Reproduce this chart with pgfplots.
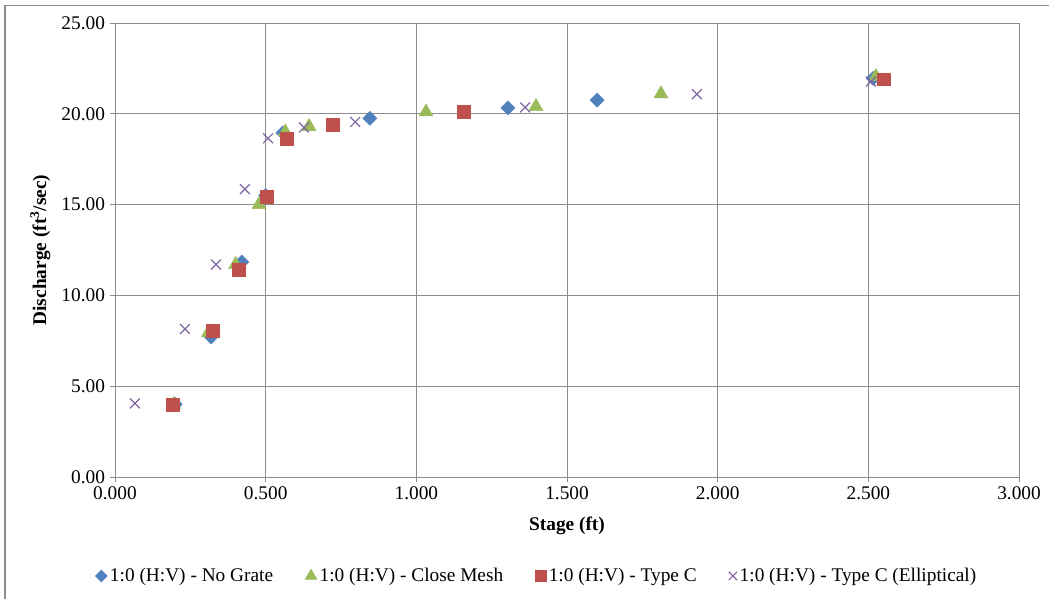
\documentclass[border=0pt]{standalone}
\usepackage{pgfplots}
\pgfplotsset{compat=1.18}
\usepackage{fontspec}
\setmainfont{Liberation Serif}
\definecolor{cblue}{HTML}{4F81BD}
\definecolor{cgreen}{HTML}{9BBB59}
\definecolor{cred}{HTML}{C0504D}
\definecolor{cpurple}{HTML}{8064A2}
\definecolor{gridc}{HTML}{8C8C8C}
\begin{document}
\begin{tikzpicture}
\useasboundingbox (-86.25pt,-91.5pt) rectangle (700.5pt,357.75pt);
\draw[gridc,line width=0.8pt] (-82.5pt,-100pt) -- (-82.5pt,353.8pt) -- (710pt,353.8pt);
\begin{axis}[
  at={(0,0)}, anchor=south west,
  scale only axis, width=678pt, height=340.5pt,
  xmin=0, xmax=3, ymin=0, ymax=25,
  xtick={0,0.5,...,3}, ytick={0,5,...,25},
  xticklabel style={/pgf/number format/.cd,fixed,fixed zerofill,precision=3,assume math mode=true},
  yticklabel style={/pgf/number format/.cd,fixed,fixed zerofill,precision=2,assume math mode=true},
  ticklabel style={font=\fontsize{14.5}{17}\selectfont},
  grid=major, grid style={gridc,line width=0.6pt},
  axis line style={gridc,line width=0.6pt},
  tick style={gridc,line width=0.6pt},
  tick align=outside, major tick length=4pt,
  xtick pos=bottom, ytick pos=left,
  xlabel={\bfseries Stage (ft)},
  ylabel={\bfseries Discharge (ft\textsuperscript{3}/sec)},
  label style={font=\fontsize{14.5}{17}\selectfont},
  xlabel style={at={(axis description cs:0.5,0)}, anchor=center, yshift=-36.75pt},
  ylabel style={at={(axis description cs:-0.0826,0.5)}, anchor=center},
  legend style={at={(0.467,-0.218)}, anchor=center, draw=none, fill=none,
    font=\fontsize{14.5}{17}\selectfont, /tikz/every even column/.append style={column sep=22pt}},
  legend columns=4,
  legend image code/.code={\draw[#1,scale=0.85] plot coordinates {(0.15cm,0cm)};},
]
\addplot[only marks, mark=square*, mark options={rotate=45, fill=cblue, draw=cblue}, mark size=3.7pt]
coordinates {(0.20,4.00) (0.319,7.71) (0.421,11.84) (0.500,15.50) (0.557,18.95) (0.846,19.75) (1.304,20.33) (1.600,20.75) (2.516,21.95)};
\addlegendentry{1:0 (H:V) - No Grate}
\addplot[only marks, mark=triangle*, mark options={fill=cgreen, draw=cgreen}, mark size=6pt]
coordinates {(0.195,4.00) (0.310,7.95) (0.400,11.70) (0.478,15.00) (0.565,19.00) (0.644,19.30) (1.032,20.10) (1.397,20.40) (1.812,21.10) (2.525,22.05)};
\addlegendentry{1:0 (H:V) - Close Mesh}
\addplot[only marks, mark=square*, mark options={fill=cred, draw=cred}, mark size=4.8pt]
coordinates {(0.193,3.96) (0.325,8.04) (0.410,11.40) (0.504,15.45) (0.571,18.62) (0.723,19.40) (1.158,20.10) (2.552,21.90)};
\addlegendentry{1:0 (H:V) - Type C}
\addplot[only marks, mark=x, mark options={draw=cpurple, line width=0.9pt}, mark size=5.2pt]
coordinates {(0.066,4.05) (0.232,8.15) (0.335,11.70) (0.431,15.85) (0.508,18.65) (0.627,19.25) (0.797,19.55) (1.361,20.35) (1.931,21.08) (2.509,21.78)};
\addlegendentry{1:0 (H:V) - Type C (Elliptical)}
\end{axis}
\end{tikzpicture}
\end{document}
